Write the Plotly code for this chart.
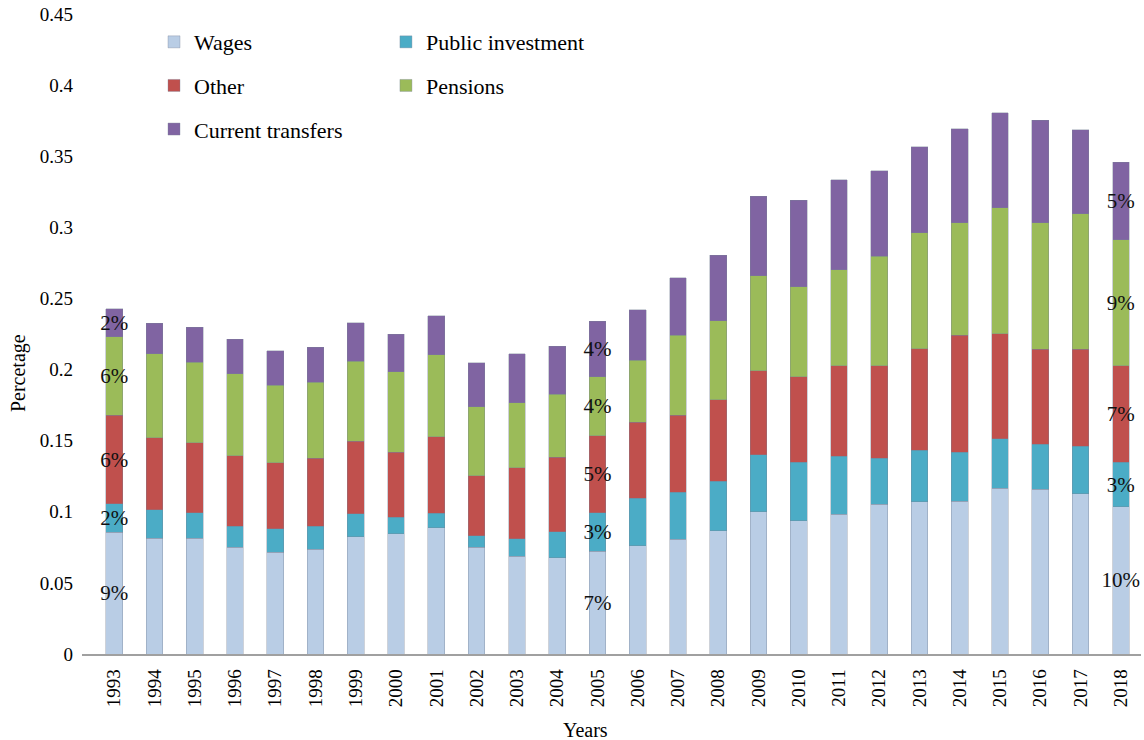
import plotly.graph_objects as go

years = [str(y) for y in range(1993, 2019)]

wages = [0.0856, 0.0813, 0.0813, 0.0750, 0.0717, 0.0736, 0.0825, 0.0844, 0.0888, 0.0750,
         0.0687, 0.0677, 0.0724, 0.0762, 0.0806, 0.0865, 0.1001, 0.0937, 0.0983, 0.1052,
         0.1070, 0.1075, 0.1164, 0.1157, 0.1128, 0.1034]
public_investment = [0.0201, 0.0200, 0.0181, 0.0150, 0.0162, 0.0164, 0.0162, 0.0119, 0.0101, 0.0082,
                     0.0124, 0.0181, 0.0270, 0.0333, 0.0333, 0.0349, 0.0401, 0.0410, 0.0407, 0.0323,
                     0.0361, 0.0345, 0.0351, 0.0317, 0.0333, 0.0313]
other = [0.0621, 0.0508, 0.0490, 0.0495, 0.0466, 0.0476, 0.0508, 0.0457, 0.0539, 0.0422,
         0.0499, 0.0527, 0.0539, 0.0534, 0.0539, 0.0572, 0.0590, 0.0603, 0.0637, 0.0652,
         0.0714, 0.0820, 0.0738, 0.0668, 0.0681, 0.0680]
pensions = [0.0551, 0.0591, 0.0569, 0.0576, 0.0544, 0.0534, 0.0565, 0.0565, 0.0577, 0.0485,
            0.0455, 0.0443, 0.0415, 0.0438, 0.0565, 0.0558, 0.0666, 0.0633, 0.0674, 0.0769,
            0.0817, 0.0791, 0.0886, 0.0889, 0.0953, 0.0886]
current_transfers = [0.0197, 0.0213, 0.0246, 0.0242, 0.0242, 0.0246, 0.0270, 0.0265, 0.0272, 0.0309,
                     0.0347, 0.0335, 0.0391, 0.0352, 0.0401, 0.0459, 0.0560, 0.0607, 0.0635, 0.0602,
                     0.0604, 0.0663, 0.0668, 0.0722, 0.0592, 0.0546]

# years whose segments carry a percentage label
labelled_years = ["1993", "2005", "2018"]

series = [
    ("Wages", wages, "#B9CDE5", "legend"),
    ("Public investment", public_investment, "#4BACC6", "legend2"),
    ("Other", other, "#C0504D", "legend"),
    ("Pensions", pensions, "#9BBB59", "legend2"),
    ("Current transfers", current_transfers, "#8064A2", "legend"),
]

FONT = "Liberation Serif"

fig = go.Figure()
for name, vals, color, lg in series:
    texts = [f"{round(v * 100):.0f}%" if yr in labelled_years else "" for yr, v in zip(years, vals)]
    fig.add_trace(go.Bar(
        x=years, y=vals, name=name,
        marker=dict(color=color, line=dict(color="rgba(120,130,150,0.6)", width=0.6)),
        text=texts, textposition="inside", insidetextanchor="middle",
        textangle=0, constraintext="none",
        insidetextfont=dict(family=FONT, size=21, color="#111111"),
        legend=lg, legendgroup=name,
        cliponaxis=False,
    ))

fig.update_layout(
    barmode="stack",
    bargap=0.585,
    width=1144, height=740,
    margin=dict(l=82, r=3, t=14, b=86),
    paper_bgcolor="white", plot_bgcolor="white",
    font=dict(family=FONT, size=19, color="#000000"),
    legend=dict(x=0.068, y=0.989, xanchor="left", yanchor="top",
                orientation="v", traceorder="grouped", tracegroupgap=12,
                font=dict(family=FONT, size=22), bgcolor="rgba(0,0,0,0)"),
    legend2=dict(x=0.287, y=0.989, xanchor="left", yanchor="top",
                 orientation="v", traceorder="grouped", tracegroupgap=12,
                 font=dict(family=FONT, size=22), bgcolor="rgba(0,0,0,0)"),
    annotations=[
        dict(text="Percetage", xref="paper", yref="paper", x=-0.0604, y=0.439,
             xanchor="center", yanchor="middle", textangle=-90, showarrow=False,
             font=dict(family=FONT, size=20)),
        dict(text="Years", xref="paper", yref="paper", x=0.475, y=-0.119,
             xanchor="center", yanchor="middle", showarrow=False,
             font=dict(family=FONT, size=20)),
    ],
)
fig.update_xaxes(
    type="category", range=[-0.8, 25.5],
    tickangle=-90, tickfont=dict(family=FONT, size=19),
    showline=True, linecolor="#A0A0A0", linewidth=1.5,
    ticks="", showgrid=False, ticklabelstandoff=6,
)
fig.update_yaxes(
    range=[0, 0.45], dtick=0.05, tick0=0,
    showline=False, showgrid=False, zeroline=False, ticks="",
    tickfont=dict(family=FONT, size=19), ticklabelstandoff=8,
)

fig.write_html("out.html", config={"displayModeBar": False},
               post_script="document.body.style.margin='0';")
